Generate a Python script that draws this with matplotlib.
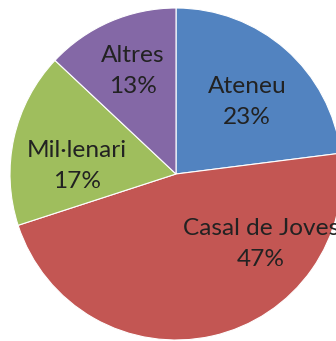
import matplotlib

matplotlib.use("Agg")
import matplotlib.pyplot as plt

categories = ["Ateneu", "Casal de Joves", "Mil·lenari", "Altres"]
shares = [23, 47, 17, 13]
slice_colors = ["#5283C0", "#C35653", "#9FBE5D", "#8468A6"]

# label centres (pie radius units), Excel "best fit" style placement
label_xy = [(0.428, 0.434), (0.512, -0.422), (-0.596, 0.048), (-0.259, 0.620)]

W, H = 336, 341
cx, cy, r = 176, 174, 166  # pie centre and radius in pixels

fig = plt.figure(figsize=(W / 100, H / 100), dpi=100)
ax = fig.add_axes([0, 0, 1, 1])
ax.pie(
    shares,
    colors=slice_colors,
    startangle=90,
    counterclock=False,
    radius=1,
    wedgeprops=dict(edgecolor="white", linewidth=0.8),
)
for name, val, (x, y) in zip(categories, shares, label_xy):
    ax.text(x, y, f"{name}\n{val}%", ha="center", va="center",
            fontsize=17.6, family="Lato", color="#222222", linespacing=1.55)

ax.set_aspect("auto")
ax.set_xlim(-cx / r, (W - cx) / r)
ax.set_ylim((cy - H) / r, cy / r)
ax.axis("off")
fig.savefig("out.png", dpi=100)
